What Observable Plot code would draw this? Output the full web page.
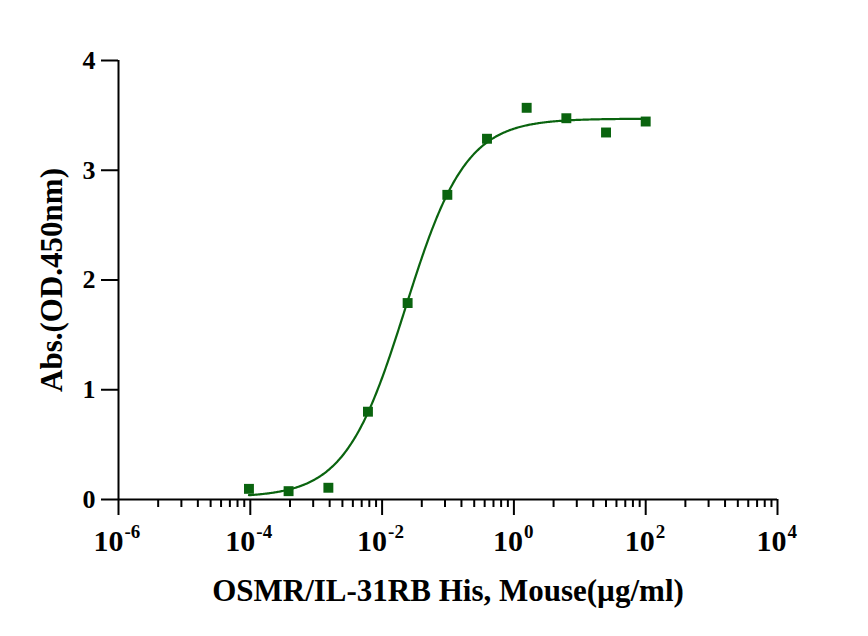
<!DOCTYPE html>
<html>
<head>
<meta charset="utf-8">
<script src="https://cdn.jsdelivr.net/npm/d3@7"></script>
<script src="https://cdn.jsdelivr.net/npm/@observablehq/plot@0.6"></script>
<style>
  html, body { margin: 0; padding: 0; background: #ffffff; }
  svg { display: block; }
</style>
</head>
<body>
<div id="chart"></div>
<script>
// Measured data (concentration in µg/ml, absorbance OD450)
const concentration = [0.0000954, 0.000381, 0.00153, 0.0061, 0.0244, 0.0977, 0.3906, 1.5625, 6.25, 25, 100];
const absorbance    = [0.097, 0.076, 0.107, 0.80, 1.79, 2.776, 3.287, 3.569, 3.474, 3.344, 3.444];

// Four-parameter logistic fit parameters
const fitBottom = 0.02;
const fitTop = 3.47;
const fitEC50 = 0.0226;
const fitHill = 0.95;
const fitRange = [0.0000954, 100];

// Axis ticks
const yTicks = [0, 1, 2, 3, 4];
const xMajorExponents = [-6, -4, -2, 0, 2, 4];
const xMinorMultipliers = [2, 3, 4, 5, 6, 7, 8, 9];
const xNegLabels = ["-6", "-4", "-2"];
const xPosLabels = ["0", "2", "4"];

const xTitle = "OSMR/IL-31RB His, Mouse(µg/ml)";
const yTitle = "Abs.(OD.450nm)";

const green = "#0a640f";

const points = concentration.map((c, i) => ({x: c, y: absorbance[i]}));

// Sample the fitted curve along the log axis
const curve = d3.range(0, 401).map(i => {
  const lx = Math.log10(fitRange[0]) + (Math.log10(fitRange[1]) - Math.log10(fitRange[0])) * i / 400;
  const x = 10 ** lx;
  return {x, y: fitBottom + (fitTop - fitBottom) / (1 + (fitEC50 / x) ** fitHill)};
});

const majorTicks = xMajorExponents.map(e => 10 ** e);
const minorTicks = xMajorExponents.slice(0, -1).flatMap(e => xMinorMultipliers.map(k => 10 ** (e + 2 * Math.log10(k))));

const negExps = xNegLabels.map(s => ({x: 10 ** (+s), s}));
const posExps = xPosLabels.map(s => ({x: 10 ** (+s), s}));

const font = "'Liberation Serif', 'Times New Roman', serif";

const chart = Plot.plot({
  width: 868,
  height: 636,
  marginLeft: 118,
  marginRight: 91,
  marginTop: 60,
  marginBottom: 137,
  style: {fontFamily: font, fontWeight: "bold", color: "#000", background: "#fff"},
  x: {type: "log", domain: [1e-6, 1e4]},
  y: {domain: [0, 4]},
  marks: [
    // axis lines
    Plot.ruleY([0], {x1: 1e-6, x2: 1e4, stroke: "#000", strokeWidth: 2}),
    Plot.ruleX([1e-6], {y1: 0, y2: 4, stroke: "#000", strokeWidth: 2}),
    // y ticks
    Plot.axisY({ticks: yTicks, tickSize: 17, tickPadding: 6, fontSize: 26, fontWeight: "bold", strokeWidth: 2, label: null, tickFormat: d => String(d)}),
    // x ticks
    Plot.axisX({ticks: majorTicks, tickSize: 16, strokeWidth: 2, label: null, tickFormat: () => ""}),
    Plot.axisX({ticks: minorTicks, tickSize: 8, strokeWidth: 2, label: null, tickFormat: () => ""}),
    // x tick labels: base and exponent
    Plot.text(negExps, {x: "x", y: () => 0, text: () => "10", textAnchor: "end", lineAnchor: "bottom", dx: 5, dy: 51, fontSize: 30, fontWeight: "bold", fill: "#000"}),
    Plot.text(negExps, {x: "x", y: () => 0, text: "s", textAnchor: "start", lineAnchor: "bottom", dx: 6, dy: 38, fontSize: 19, fontWeight: "bold", fill: "#000"}),
    Plot.text(posExps, {x: "x", y: () => 0, text: () => "10", textAnchor: "end", lineAnchor: "bottom", dx: 9, dy: 51, fontSize: 30, fontWeight: "bold", fill: "#000"}),
    Plot.text(posExps, {x: "x", y: () => 0, text: "s", textAnchor: "start", lineAnchor: "bottom", dx: 10, dy: 38, fontSize: 19, fontWeight: "bold", fill: "#000"}),
    // axis titles
    Plot.text([xTitle], {frameAnchor: "bottom", lineAnchor: "bottom", dy: 101, fontSize: 31, fontWeight: "bold", fill: "#000"}),
    Plot.text([yTitle], {frameAnchor: "left", textAnchor: "middle", rotate: -90, dx: -66, fontSize: 31, fontWeight: "bold", fill: "#000"}),
    // fitted curve and data
    Plot.line(curve, {x: "x", y: "y", stroke: green, strokeWidth: 2.2}),
    Plot.dot(points, {x: "x", y: "y", symbol: "square", r: 5.6, fill: green, stroke: "none"})
  ]
});

document.getElementById("chart").appendChild(chart);
</script>
</body>
</html>
